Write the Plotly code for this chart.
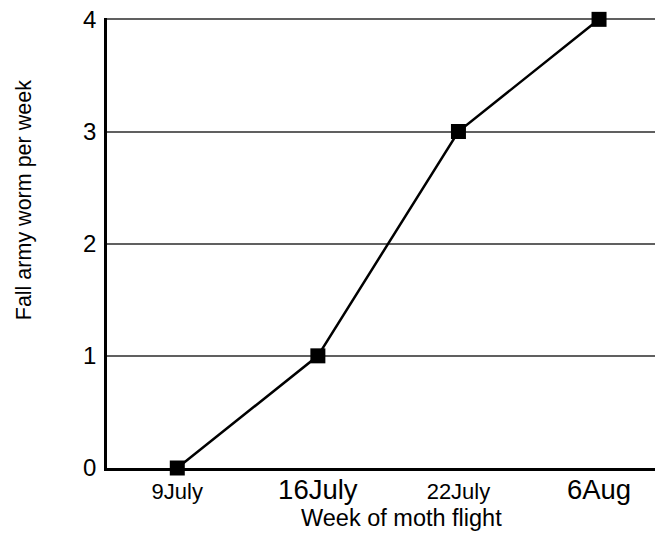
import plotly.graph_objects as go

weeks = ["9July", "16July", "22July", "6Aug"]
worms = [0, 1, 3, 4]
# the original mixes two label sizes on the x axis
week_label_sizes = [22, 27.5, 22, 27.5]
y_ticks = [0, 1, 2, 3, 4]

tick_text = [f"<span style='font-size:{s}px'>{w}</span>" for w, s in zip(weeks, week_label_sizes)]

fig = go.Figure()
fig.add_trace(go.Scatter(
    x=weeks, y=worms,
    mode="lines+markers",
    line=dict(color="black", width=2.5),
    marker=dict(symbol="square", size=15, color="black"),
    cliponaxis=False,
    showlegend=False,
))

# page body adds an 8px offset, so the figure is sized to fit inside the window
fig.update_layout(
    width=655, height=529,
    margin=dict(l=99, r=0, t=10, b=69),
    paper_bgcolor="white",
    plot_bgcolor="white",
    font=dict(family="Liberation Sans, Arial, sans-serif", color="black"),
)

fig.update_xaxes(
    type="category",
    range=[-0.5, 3.455],
    tickvals=weeks, ticktext=tick_text,
    showgrid=False,
    showline=True, linecolor="black", linewidth=2.5,
    ticks="", ticklabelstandoff=2,
    tickfont=dict(size=22),
    automargin=False,
)
# top of range nudged a hair above 4 so the top gridline is not clipped
fig.update_yaxes(
    range=[0, 4.012],
    tickvals=y_ticks,
    showgrid=True, gridcolor="#606060", gridwidth=2,
    showline=True, linecolor="black", linewidth=2.5,
    ticks="", ticklabelstandoff=3,
    tickfont=dict(size=24),
    ticklabeloverflow="allow",
    zeroline=False,
    automargin=False,
)

fig.add_annotation(
    text="Week of moth flight", xref="paper", yref="paper",
    x=0.529, y=0, yshift=-50, showarrow=False,
    font=dict(size=23.5), xanchor="center", yanchor="middle",
)
fig.add_annotation(
    text="Fall army worm per week", xref="paper", yref="paper",
    x=0, xshift=-83, y=0.595, textangle=-90, showarrow=False,
    font=dict(size=21.5), xanchor="center", yanchor="middle",
)

fig.write_html("out.html")
